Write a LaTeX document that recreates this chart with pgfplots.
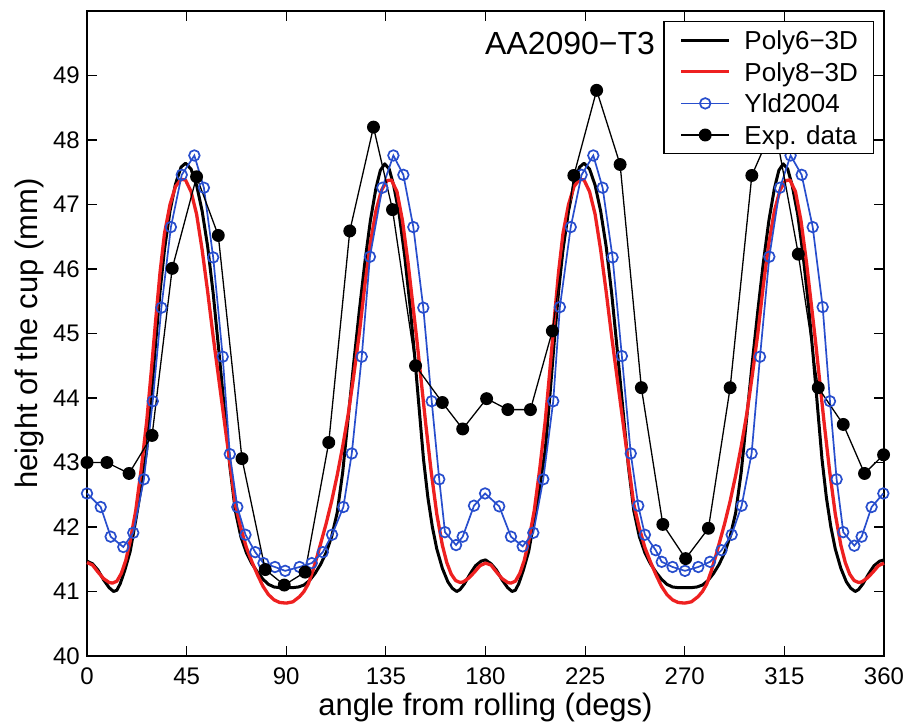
\documentclass[border=0pt]{standalone}
\usepackage{fontspec}
\setmainfont{Liberation Sans}
\usepackage{pgfplots}
\pgfplotsset{compat=1.18}
\definecolor{polyred}{RGB}{238,32,32}
\definecolor{yldblue}{RGB}{40,78,205}
\begin{document}
\begin{tikzpicture}
\begin{axis}[
  scale only axis, width=797bp, height=645bp,
  xmin=0, xmax=360, ymin=40, ymax=50,
  xtick={0,45,...,360}, ytick={40,41,...,49},
  tick align=inside, major tick length=10bp,
  axis line style={line width=1.2bp},
  tick style={line width=1.2bp, black},
  clip=false,
  /pgf/number format/assume math mode=true,
  tick label style={font=\fontsize{24bp}{28bp}\selectfont, inner sep=0pt},
  yticklabel style={xshift=-7bp},
  xticklabel style={yshift=-12bp},
  xlabel={angle from rolling (degs)},
  ylabel={height of the cup (mm)},
  label style={font=\fontsize{31bp}{36bp}\selectfont, inner sep=0pt},
  xlabel style={at={(axis description cs:0.5,-0.0915)}, anchor=base},
  ylabel style={at={(axis description cs:-0.0627,0.5)}, anchor=base},
  legend cell align=left,
  legend style={at={(0.9875,0.9845)}, anchor=north east, draw=black, line width=1.2bp, fill=white,
    inner xsep=15.5bp, inner ysep=2.8bp, font=\fontsize{26bp}{30bp}\selectfont,
    nodes={inner sep=0pt, text height=25.1bp, text depth=6.5bp},
    /tikz/every odd column/.append style={column sep=13.6bp}},
  legend image code/.code={\draw[mark repeat=2,mark phase=2,#1] plot coordinates {(0bp,0bp) (24bp,0bp) (48bp,0bp)};},
]
% Poly6-3D
\addplot[black, line width=3bp, line join=round, no markers] coordinates {
(0,41.47) (2.5,41.43) (5,41.33) (7.5,41.18) (10,41.06) (12,41.00) (13.5,41.02) (15,41.12) (17,41.32) (19.5,41.62) (22,42.10) (24.5,42.62) (27,43.20) (29,44.00) (31,44.85) (33,45.65) (35,46.30) (37.5,46.90) (40,47.32) (42.5,47.58) (44.5,47.64) (47,47.55) (49.5,47.30) (52,46.90) (54.5,46.35) (57,45.62) (59.5,44.75) (62,43.85) (64.5,42.95) (67,42.25) (69.5,41.85) (72,41.60) (74.5,41.43) (77,41.30) (79.5,41.19) (82,41.11) (84.5,41.07) (87,41.06) (90,41.06)
(93,41.06) (95.5,41.07) (98,41.10) (100.5,41.17) (103,41.28) (105.5,41.42) (108,41.60) (110.5,41.85) (113,42.22) (115.5,42.85) (118,43.70) (120.5,44.55) (123,45.35) (125.5,46.10) (128,46.75) (130.5,47.25) (132.5,47.53) (134.5,47.63) (136.5,47.55) (138.5,47.30) (141,46.85) (143.5,46.20) (146,45.40) (148,44.65) (150,43.85) (152,43.05) (154,42.45) (156,42.00) (158,41.66) (160.5,41.36) (163,41.15) (165,41.05) (167,41.00) (168.5,41.03) (170.5,41.12) (173,41.27) (175.5,41.40) (178,41.47) (180,41.49)
(182.5,41.43) (185,41.33) (187.5,41.18) (190,41.06) (192,41.00) (193.5,41.02) (195,41.12) (197,41.32) (199.5,41.62) (202,42.10) (204.5,42.62) (207,43.20) (209,44.00) (211,44.85) (213,45.65) (215,46.30) (217.5,46.90) (220,47.32) (222.5,47.58) (224.5,47.64) (227,47.55) (229.5,47.30) (232,46.90) (234.5,46.35) (237,45.62) (239.5,44.75) (242,43.85) (244.5,42.95) (247,42.25) (249.5,41.85) (252,41.60) (254.5,41.43) (257,41.30) (259.5,41.19) (262,41.11) (264.5,41.07) (267,41.06) (270,41.06)
(273,41.06) (275.5,41.07) (278,41.10) (280.5,41.17) (283,41.28) (285.5,41.42) (288,41.60) (290.5,41.85) (293,42.22) (295.5,42.85) (298,43.70) (300.5,44.55) (303,45.35) (305.5,46.10) (308,46.75) (310.5,47.25) (312.5,47.53) (314.5,47.63) (316.5,47.55) (318.5,47.30) (321,46.85) (323.5,46.20) (326,45.40) (328,44.65) (330,43.85) (332,43.05) (334,42.45) (336,42.00) (338,41.66) (340.5,41.36) (343,41.15) (345,41.05) (347,41.00) (348.5,41.03) (350.5,41.12) (353,41.27) (355.5,41.40) (358,41.47) (360,41.49)
};
% Poly8-3D
\addplot[polyred, line width=3.3bp, line join=round, no markers] coordinates {
(0,41.45) (2.5,41.41) (5,41.30) (7.5,41.20) (10,41.14) (11.5,41.13) (13.5,41.16) (15.5,41.28) (17.5,41.48) (19.5,41.78) (22,42.25) (24.5,42.90) (27,43.65) (29,44.40) (31,45.20) (33,45.95) (35,46.55) (37.5,47.00) (40,47.28) (42.5,47.39) (44.5,47.38) (47,47.20) (49.5,46.85) (52,46.30) (54.5,45.65) (57,44.95) (59.5,44.30) (62,43.65) (64.5,43.00) (67,42.35) (69.5,41.98) (72,41.68) (74.5,41.46) (77,41.26) (79.5,41.08) (82,40.95) (84.5,40.87) (87,40.83) (90,40.82)
(93,40.84) (96,40.92) (98,41.00) (100,41.12) (102,41.32) (104,41.55) (106,41.80) (108,42.05) (110.5,42.40) (113,42.80) (115.5,43.25) (118,43.75) (120.5,44.35) (123,45.00) (125.5,45.75) (128,46.40) (130.5,46.90) (133,47.22) (135.5,47.37) (137.5,47.38) (140,47.20) (142.5,46.75) (145,46.10) (147,45.50) (149,44.90) (151,44.25) (153,43.60) (155.5,42.85) (158,42.20) (160.5,41.72) (162.5,41.45) (164.5,41.27) (166.5,41.17) (168.5,41.14) (170,41.15) (172.5,41.21) (175,41.30) (177.5,41.40) (180,41.44)
(182.5,41.41) (185,41.30) (187.5,41.20) (190,41.14) (191.5,41.13) (193.5,41.16) (195.5,41.28) (197.5,41.48) (199.5,41.78) (202,42.25) (204.5,42.90) (207,43.65) (209,44.40) (211,45.20) (213,45.95) (215,46.55) (217.5,47.00) (220,47.28) (222.5,47.39) (224.5,47.38) (227,47.20) (229.5,46.85) (232,46.30) (234.5,45.65) (237,44.95) (239.5,44.30) (242,43.65) (244.5,43.00) (247,42.35) (249.5,41.98) (252,41.68) (254.5,41.46) (257,41.26) (259.5,41.08) (262,40.95) (264.5,40.87) (267,40.83) (270,40.82)
(273,40.84) (276,40.92) (278,41.00) (280,41.12) (282,41.32) (284,41.55) (286,41.80) (288,42.05) (290.5,42.40) (293,42.80) (295.5,43.25) (298,43.75) (300.5,44.35) (303,45.00) (305.5,45.75) (308,46.40) (310.5,46.90) (313,47.22) (315.5,47.37) (317.5,47.38) (320,47.20) (322.5,46.75) (325,46.10) (327,45.50) (329,44.90) (331,44.25) (333,43.60) (335.5,42.85) (338,42.20) (340.5,41.72) (342.5,41.45) (344.5,41.27) (346.5,41.17) (348.5,41.14) (350,41.15) (352.5,41.21) (355,41.30) (357.5,41.40) (360,41.44)
};
% Yld2004
\addplot[yldblue, line width=1.7bp, mark=o, mark size=5.3bp, mark options={line width=1.7bp}] coordinates {
(0,42.52) (6.2,42.31) (10.7,41.85) (16.4,41.69) (20.9,41.91) (25.7,42.74) (29.7,43.95) (33.6,45.40) (37.9,46.65) (42.8,47.46) (48.5,47.76) (52.8,47.26) (57.0,46.18) (61.3,44.64) (64.5,43.13) (67.9,42.31) (71.6,41.88) (76.0,41.61) (79.7,41.44) (84.9,41.38) (89.5,41.32)
(96.0,41.38) (101.5,41.44) (106.5,41.61) (110.7,41.88) (115.8,42.31) (119.6,43.14) (124.1,44.64) (127.8,46.19) (133.4,47.26) (138.4,47.76) (142.9,47.46) (147.4,46.65) (151.9,45.40) (155.7,43.95) (159.1,42.74) (161.7,41.92) (166.7,41.72) (169.7,41.85) (174.8,42.33) (179.8,42.52)
(186.2,42.32) (191.5,41.85) (196.8,41.70) (201.6,41.91) (206.1,42.74) (210.6,43.95) (213.6,45.41) (218.5,46.65) (223.4,47.46) (228.7,47.76) (232.9,47.26) (237.4,46.18) (241.6,44.65) (245.6,43.14) (249.0,42.33) (252.0,41.88) (256.9,41.64) (259.6,41.46) (264.5,41.38) (270.1,41.32)
(276.1,41.38) (281.4,41.46) (286.6,41.64) (291.2,41.88) (295.7,42.33) (300.2,43.14) (304.0,44.64) (308.2,46.19) (313.0,47.26) (317.8,47.76) (322.8,47.46) (327.8,46.65) (332.3,45.41) (335.6,43.95) (338.6,42.74) (341.6,41.92) (346.6,41.71) (349.9,41.85) (354.4,42.31) (359.7,42.52)
};
% Exp. data
\addplot[black, line width=1.3bp, mark=*, mark size=5.8bp] coordinates {
(0,43.00) (9,43.00) (19,42.83) (29.4,43.42) (38.5,46.01) (49.5,47.43) (59.3,46.52) (70,43.06) (80.5,41.34) (89.1,41.10) (98.5,41.30) (109.2,43.31) (118.7,46.59) (129.4,48.20) (138,46.92) (148.4,44.50) (160.5,43.93) (169.7,43.52) (180.5,43.99) (190.1,43.82) (200.3,43.82) (210.2,45.04) (219.9,47.45) (230.2,48.77) (240.8,47.62) (250.4,44.16) (260.1,42.04) (270.4,41.51) (280.7,41.98) (290.5,44.16) (300.3,47.45) (310.5,48.25) (321.3,46.23) (330.3,44.16) (341.6,43.59) (351.2,42.83) (359.8,43.12)
};
\legend{Poly6−3D, Poly8−3D, Yld2004, Exp. data}
\node[font=\fontsize{32bp}{36bp}\selectfont, inner sep=0pt] at (axis cs:218.2,49.5) {AA2090−T3};
\end{axis}
\pgfresetboundingbox
\path (current axis.south west) ++(-87bp,-71bp) rectangle ++(908bp,727bp);
\end{tikzpicture}
\end{document}
